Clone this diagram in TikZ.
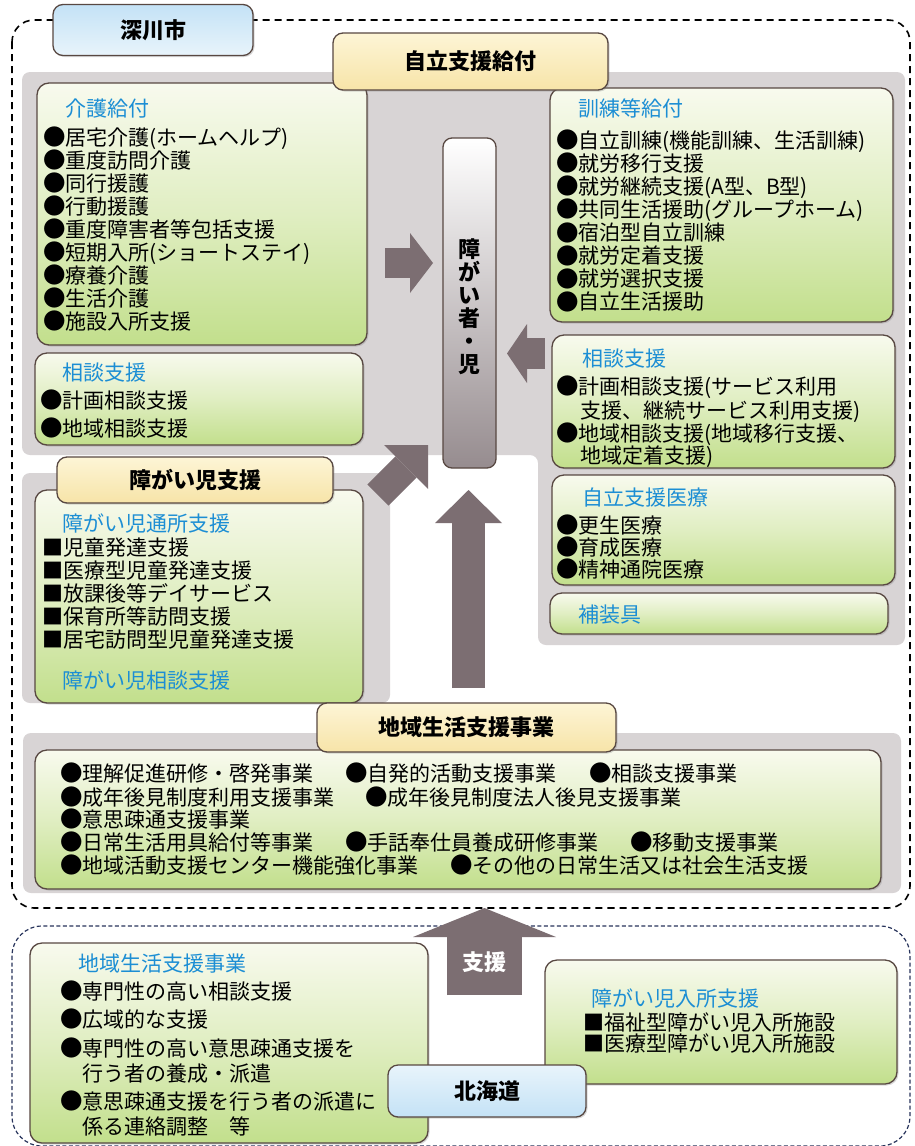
\documentclass[tikz,border=0pt]{standalone}
\usepackage{fontspec}
\usepackage{graphicx}
\setmainfont{Noto Sans CJK JP}
\usetikzlibrary{arrows.meta,shadows,fit}
\definecolor{boxline}{RGB}{88,72,66}
\definecolor{gtop}{RGB}{248,250,238}
\definecolor{gmid}{RGB}{224,238,194}
\definecolor{gbot}{RGB}{194,223,140}
\definecolor{ytop}{RGB}{253,245,214}
\definecolor{ybot}{RGB}{247,228,168}
\definecolor{btop}{RGB}{196,226,246}
\definecolor{bbot}{RGB}{232,244,251}
\definecolor{panelgray}{RGB}{216,212,213}
\definecolor{arrowc}{RGB}{124,110,114}
\definecolor{titleblue}{RGB}{28,142,212}
\definecolor{navy}{RGB}{40,52,92}
\definecolor{pgrey}{RGB}{150,140,143}
\newcommand\bl{\makebox[21pt]{\raisebox{-0.6pt}{\scalebox{1.07}{●}}}}
\begin{document}
\begin{tikzpicture}[x=1pt,y=-1pt,
  greenbox/.style={draw=boxline, line width=1.3pt, rounded corners=12pt, inner sep=0pt,
    top color=gtop, bottom color=gbot, middle color=gmid,
    drop shadow={shadow xshift=1.5pt, shadow yshift=-1.5pt, opacity=0.3}},
  ylabel/.style={draw=boxline, line width=1.3pt, rounded corners=10pt, inner sep=0pt,
    top color=ytop, bottom color=ybot, font=\fontsize{22}{24}\selectfont\bfseries,
    drop shadow={shadow xshift=1.5pt, shadow yshift=-1.5pt, opacity=0.3}},
  blabel/.style={ylabel, top color=btop, bottom color=bbot},
  itm/.style={anchor=west, inner sep=0pt, text height=18pt, text depth=2pt,
    font=\fontsize{21}{23}\selectfont},
  ttl/.style={itm, text=titleblue},
  fatarrow/.style n args={3}{draw=arrowc, line width=#1,
    -{Triangle[width=#2, length=#3, line width=0pt]}},
  panel/.style={fill=panelgray, rounded corners=8pt}
]
\fill[white] (0,0) rectangle (914,1146);
\useasboundingbox (0,0) rectangle (914,1146);

% gray panels
\fill[panel] (22,72) -- (905,72) -- (905,645) -- (538,645) -- (538,455) -- (22,455) -- cycle;
\fill[panel] (22,473) rectangle (390,703);
\fill[panel] (23,733) rectangle (901,893);

% dashed regions
\draw[black, line width=1.6pt, dash pattern=on 7pt off 5pt, rounded corners=22pt] (12,20) rectangle (910,908);
\draw[navy, line width=1.2pt, dash pattern=on 4pt off 2.5pt, rounded corners=30pt] (12,926) rectangle (910,1146);

% arrow end points
\coordinate (a1s) at (385,263);   \coordinate (a1e) at (433,263);
\coordinate (a2s) at (545,353.5); \coordinate (a2e) at (507,353.5);
\coordinate (a3s) at (378,495);   \coordinate (a3e) at (428,445);
\coordinate (a4s) at (468.5,688); \coordinate (a4e) at (468.5,490);
\coordinate (a5s) at (484.5,995); \coordinate (a5e) at (484.5,908);

\draw[fatarrow={30pt}{60pt}{23pt}] (a1s) -- (a1e);
\draw[fatarrow={31pt}{59pt}{20pt}] (a2s) -- (a2e);
\draw[fatarrow={30pt}{62pt}{31pt}] (a3s) -- (a3e);
\draw[fatarrow={33pt}{67pt}{33pt}] (a4s) -- (a4e);
\draw[fatarrow={75pt}{143pt}{29pt}] (a5s) -- (a5e);
\node[text=white, font=\fontsize{22}{24}\selectfont\bfseries] (shien) at (484.5,962) {支援};

% ---- green boxes ----
\node[greenbox, fit={(37,83) (367,345)}] (kaigo) {};
\node[ttl] (kaigoT) at (65,108) {介護給付};
\foreach \txt [count=\i] in {{\bl 居宅介護(ホームヘルプ)},{\bl 重度訪問介護},{\bl 同行援護},{\bl 行動援護},{\bl 重度障害者等包括支援},{\bl 短期入所(ショートステイ)},{\bl 療養介護},{\bl 生活介護},{\bl 施設入所支援}}
  \node[itm] (kaigo\i) at (44,{137+23*(\i-1)}) {\txt};

\node[greenbox, fit={(35,353) (363,445)}] (soudanL) {};
\node[ttl] (soudanLT) at (62,372) {相談支援};
\node[itm] (soudanL1) at (41,400) {\bl 計画相談支援};
\node[itm] (soudanL2) at (41,428) {\bl 地域相談支援};

\node[greenbox, fit={(35,490) (363,703)}] (jiBox) {};
\node[ttl] (jiT1) at (62,523) {障がい児通所支援};
\foreach \txt [count=\i] in {{■児童発達支援},{■医療型児童発達支援},{■放課後等デイサービス},{■保育所等訪問支援},{■居宅訪問型児童発達支援}}
  \node[itm] (ji\i) at (42,{547+23.2*(\i-1)}) {\txt};
\node[ttl] (jiT2) at (62,680) {障がい児相談支援};

\node[greenbox, fit={(550,88) (893,322)}] (kunren) {};
\node[ttl] (kunrenT) at (578,108) {訓練等給付};
\foreach \txt [count=\i] in {{\bl 自立訓練(機能訓練、生活訓練)},{\bl 就労移行支援},{\bl 就労継続支援(A型、B型)},{\bl 共同生活援助(グループホーム)},{\bl 宿泊型自立訓練},{\bl 就労定着支援},{\bl 就労選択支援},{\bl 自立生活援助}}
  \node[itm] (kunren\i) at (557,{140+23.1*(\i-1)}) {\txt};

\node[greenbox, fit={(552,335) (895,468)}] (soudanR) {};
\node[ttl] (soudanRT) at (582,358) {相談支援};
\node[itm] (soudanR1) at (557,386) {\bl 計画相談支援(サービス利用};
\node[itm] (soudanR2) at (580,410) {支援、継続サービス利用支援)};
\node[itm] (soudanR3) at (557,433) {\bl 地域相談支援(地域移行支援、};
\node[itm] (soudanR4) at (580,455) {地域定着支援)};

\node[greenbox, fit={(552,475) (895,585)}] (iryo) {};
\node[ttl] (iryoT) at (582,497) {自立支援医療};
\node[itm] (iryo1) at (557,525) {\bl 更生医療};
\node[itm] (iryo2) at (557,547) {\bl 育成医療};
\node[itm] (iryo3) at (557,569) {\bl 精神通院医療};

\node[greenbox, fit={(550,593) (888,634)}] (hosogu) {};
\node[ttl] (hosoguT) at (578,614) {補装具};

% bottom city box
\node[greenbox, fit={(35,750) (881,889)}] (chiiki) {};
\node[itm] (c11) at (61,773) {\bl 理解促進研修・啓発事業};
\node[itm] (c12) at (346,773) {\bl 自発的活動支援事業};
\node[itm] (c13) at (590,773) {\bl 相談支援事業};
\node[itm] (c21) at (61,797) {\bl 成年後見制度利用支援事業};
\node[itm] (c22) at (366,797) {\bl 成年後見制度法人後見支援事業};
\node[itm] (c31) at (61,819) {\bl 意思疎通支援事業};
\node[itm] (c41) at (61,842) {\bl 日常生活用具給付等事業};
\node[itm] (c42) at (346,842) {\bl 手話奉仕員養成研修事業};
\node[itm] (c43) at (631,842) {\bl 移動支援事業};
\node[itm] (c51) at (61,865) {\bl 地域活動支援センター機能強化事業};
\node[itm] (c52) at (451,865) {\bl その他の日常生活又は社会生活支援};

% Hokkaido boxes
\node[greenbox, fit={(30,943) (428,1143)}] (hchiiki) {};
\node[ttl] (hchiikiT) at (78,963) {地域生活支援事業};
\node[itm] (h1) at (61,991) {\bl 専門性の高い相談支援};
\node[itm] (h2) at (61,1019) {\bl 広域的な支援};
\node[itm] (h3) at (61,1048) {\bl 専門性の高い意思疎通支援を};
\node[itm] (h4) at (82,1073) {行う者の養成・派遣};
\node[itm] (h5) at (61,1101) {\bl 意思疎通支援を行う者の派遣に};
\node[itm] (h6) at (82,1126) {係る連絡調整　等};

\node[greenbox, fit={(545,960) (897,1084)}] (nyusho) {};
\node[ttl] (nyushoT) at (591,998) {障がい児入所支援};
\node[itm] (n1) at (583,1022) {■福祉型障がい児入所施設};
\node[itm] (n2) at (583,1043) {■医療型障がい児入所施設};

% labels
\node[blabel, minimum width=200pt, minimum height=51pt] (fukagawa) at (153,30) {深川市};
\node[ylabel, minimum width=275pt, minimum height=57pt] (jiritsu) at (470.5,61.5) {自立支援給付};
\node[ylabel, minimum width=276pt, minimum height=46pt] (jishien) at (195,480) {障がい児支援};
\node[ylabel, minimum width=299pt, minimum height=49pt] (chiikiL) at (466.5,727.5) {地域生活支援事業};
\node[blabel, minimum width=198pt, minimum height=52pt, top color=bbot, bottom color=btop] (hokkaido) at (487,1091) {北海道};

% person box
\node[draw=boxline, line width=1.3pt, rounded corners=9pt, inner sep=0pt,
  top color=white, middle color=white!96!pgrey, bottom color=pgrey,
  fit={(443,138) (496,468)}] (person) {};
\node[align=center, inner sep=0pt, font=\fontsize{22}{23}\selectfont\bfseries] (ptext) at (469.5,307) {障\\が\\い\\者\\・\\児};
\end{tikzpicture}
\end{document}
